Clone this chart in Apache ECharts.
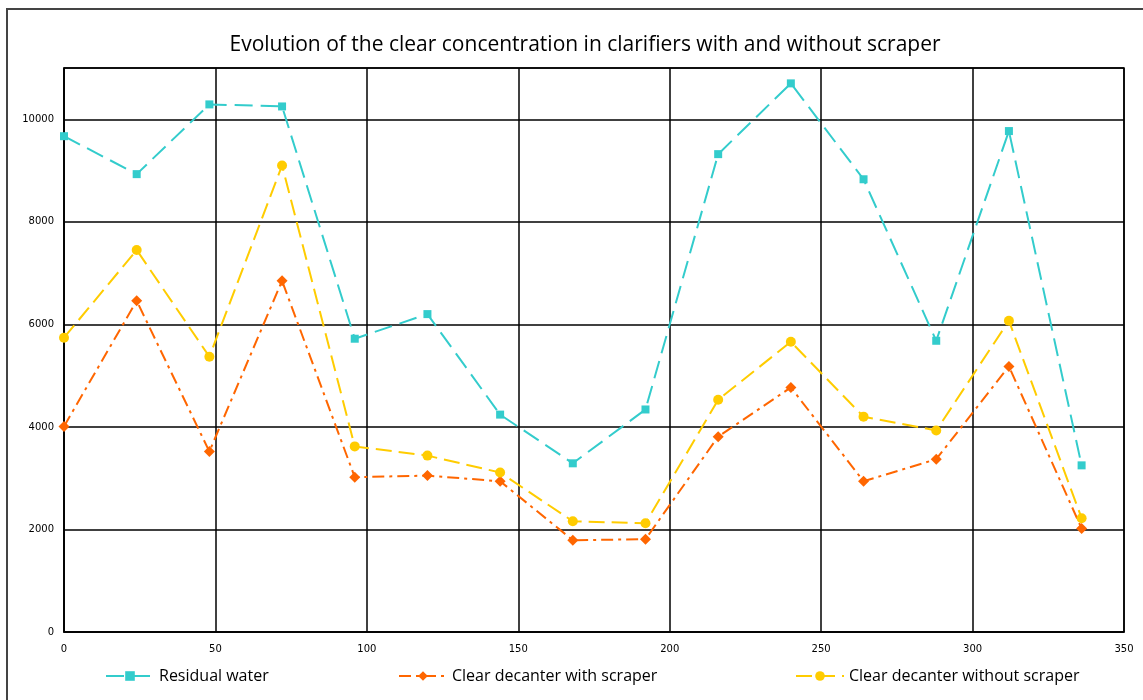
<!DOCTYPE html>
<html><head><meta charset="utf-8">
<script src="https://cdn.jsdelivr.net/npm/echarts@6/dist/echarts.min.js"></script>
<style>html,body{margin:0;padding:0;background:#fff}#c{width:1143px;height:700px}</style>
</head><body><div id="c"></div>
<script>
const hours = [0,24,48,72,96,120,144,168,192,216,240,264,288,312,336];
const residualWater = [9670,8930,10290,10250,5720,6200,4240,3290,4340,9320,10700,8830,5680,9770,3250];
const withScraper = [4010,6460,3520,6850,3020,3050,2940,1790,1810,3810,4770,2940,3370,5180,2020];
const withoutScraper = [5740,7450,5370,9100,3620,3440,3110,2160,2120,4530,5660,4200,3930,6070,2220];
const names = ['Residual water','Clear decanter with scraper','Clear decanter without scraper'];

const pair = a => hours.map((h,i)=>[h,a[i]]);
const chart = echarts.init(document.getElementById('c'));
const lblFont = {fontFamily:'DejaVu Sans', fontSize:10, color:'#000'};
const legText = {fontFamily:'Open Sans', fontSize:16, color:'#000'};
chart.setOption({
  animation:false,
  title:{text:'Evolution of the clear concentration in clarifiers with and without scraper',
    left:580, textAlign:'center', top:30,
    textStyle:{fontFamily:'Open Sans', fontSize:21, fontWeight:'normal', color:'#000'}},
  graphic:[{type:'rect', shape:{x:7,y:9,width:1160,height:720}, style:{fill:'none', stroke:'#444', lineWidth:2}}],
  grid:{left:64, right:19, top:68, bottom:68, show:true, borderColor:'#000', borderWidth:1.5},
  legend:[
    {data:[names[0]], left:100, top:663, itemWidth:48, itemHeight:12, itemGap:4, textStyle:legText},
    {data:[names[1]], left:393, top:663, itemWidth:48, itemHeight:12, itemGap:4, textStyle:legText},
    {data:[names[2]], left:790, top:663, itemWidth:48, itemHeight:12, itemGap:4, textStyle:legText}
  ],
  xAxis:{type:'value', min:0, max:350, interval:50,
    axisLine:{lineStyle:{color:'#000', width:1.5}}, axisTick:{show:false},
    splitLine:{lineStyle:{color:'#000', width:1.5}},
    axisLabel:Object.assign({margin:12}, lblFont)},
  yAxis:{type:'value', min:0, max:11000, interval:2000,
    axisLine:{show:true, lineStyle:{color:'#000', width:1.5}}, axisTick:{show:false},
    splitLine:{lineStyle:{color:'#000', width:1.5}},
    axisLabel:Object.assign({margin:10, showMaxLabel:false, formatter:v=>String(v)}, lblFont)},
  series:[
    {name:names[0], type:'line', data:pair(residualWater), symbol:'rect', symbolSize:8,
     itemStyle:{color:'#33CCCC'}, lineStyle:{color:'#33CCCC', width:2, type:[18,8]}},
    {name:names[1], type:'line', data:pair(withScraper), symbol:'diamond', symbolSize:11,
     itemStyle:{color:'#FF6600'}, lineStyle:{color:'#FF6600', width:2, type:[12,5,3,5]}},
    {name:names[2], type:'line', data:pair(withoutScraper), symbol:'circle', symbolSize:10,
     itemStyle:{color:'#FFCC00'}, lineStyle:{color:'#FFCC00', width:2, type:[16,7]}}
  ]
});
</script></body></html>
